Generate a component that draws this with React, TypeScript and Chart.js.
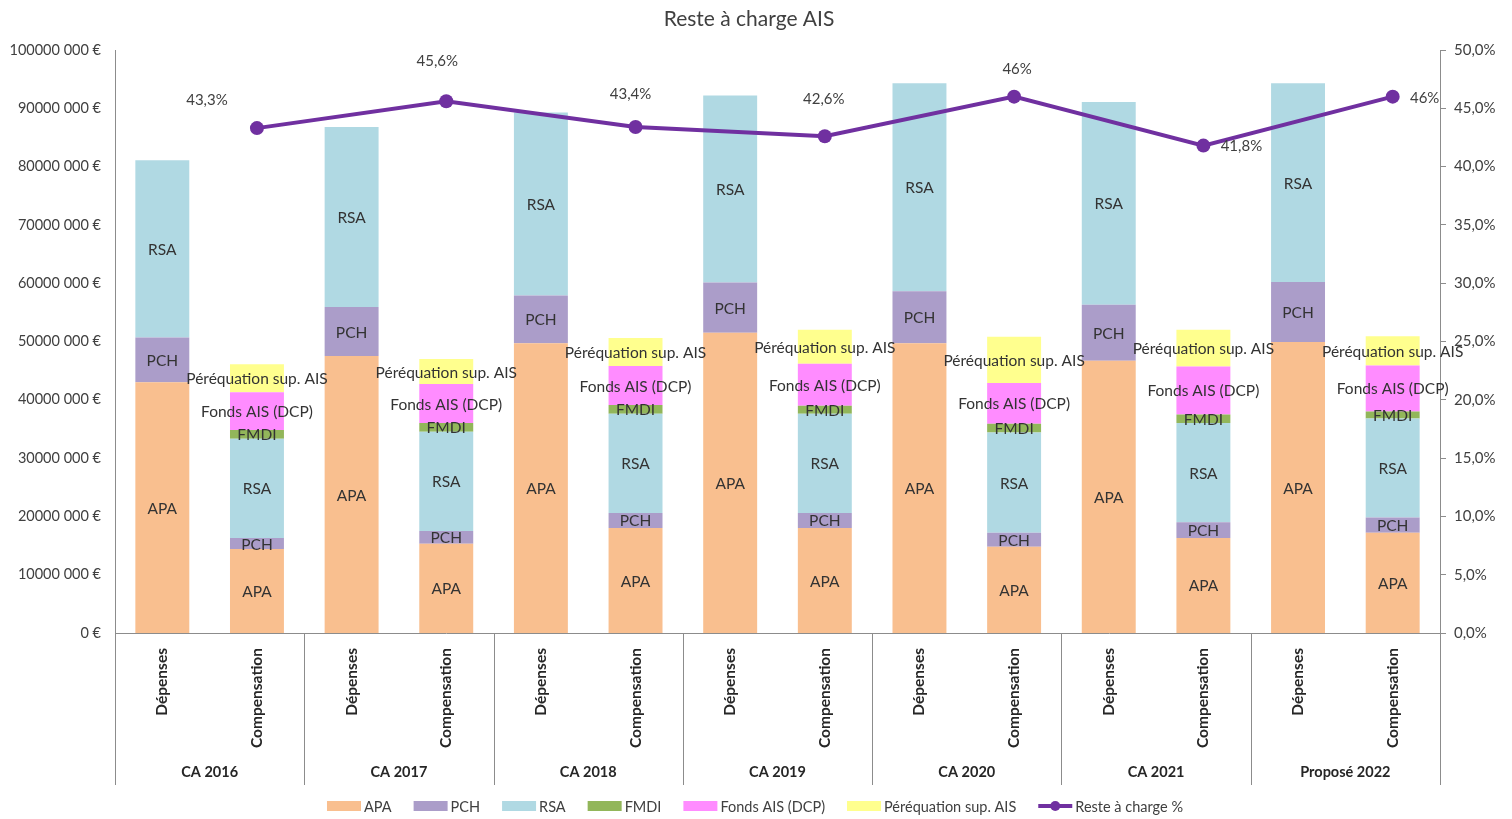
import React, { useEffect, useRef } from "react";
import { Chart, registerables } from "chart.js";

Chart.register(...registerables);

// Budget groups and the two bars shown for each of them
const groups = ["CA 2016", "CA 2017", "CA 2018", "CA 2019", "CA 2020", "CA 2021", "Proposé 2022"];
const barKinds = ["Dépenses", "Compensation"];
const categories = groups.flatMap(() => barKinds);

// Amounts in millions of euros, alternating Dépenses / Compensation
const apa = [43.0, 14.4, 47.5, 15.3, 49.7, 18.0, 51.5, 18.0, 49.7, 14.8, 46.7, 16.3, 49.9, 17.2];
const pch = [7.7, 1.9, 8.4, 2.2, 8.2, 2.6, 8.6, 2.6, 8.9, 2.4, 9.6, 2.7, 10.3, 2.6];
const rsa = [30.4, 17.0, 30.9, 17.0, 31.4, 17.0, 32.1, 17.0, 35.7, 17.2, 34.8, 17.0, 34.1, 17.0];
const fmdi = [null, 1.5, null, 1.5, null, 1.5, null, 1.4, null, 1.5, null, 1.5, null, 1.2];
const fondsAis = [null, 6.5, null, 6.7, null, 6.7, null, 7.2, null, 7.0, null, 8.2, null, 7.9];
const perequation = [null, 4.8, null, 4.3, null, 4.8, null, 5.8, null, 7.9, null, 6.3, null, 5.0];

// Share left to the département (%), plotted on the Compensation bars
const resteACharge = [null, 43.3, null, 45.6, null, 43.4, null, 42.6, null, 46, null, 41.8, null, 46];

// Where each percentage label sits relative to its point (px)
const lineLabelOffsets: [number, number][] = [
  [-50, -28], [-9, -40], [-5, -33], [-1, -37], [3, -27], [38, 1], [32, 2],
];

const FONT = 'Lato, "Open Sans", "DejaVu Sans", sans-serif';
const TEXT = "#404040";
const AXIS = "#8c8c8c";
const PURPLE = "#7030A0";

const barSeries = [
  { label: "APA", data: apa, color: "#F9BF8F" },
  { label: "PCH", data: pch, color: "#AB9DC9" },
  { label: "RSA", data: rsa, color: "#B0D9E3" },
  { label: "FMDI", data: fmdi, color: "#92B65A" },
  { label: "Fonds AIS (DCP)", data: fondsAis, color: "#FF8CFF" },
  { label: "Péréquation sup. AIS", data: perequation, color: "#FFFF8E" },
];

const formatPct = (v: number) =>
  Number.isInteger(v) ? `${v}%` : `${v.toFixed(1).replace(".", ",")}%`;

const segmentLabels = {
  id: "segmentLabels",
  afterDatasetsDraw(chart: any) {
    const ctx = chart.ctx;
    ctx.save();
    ctx.textAlign = "center";
    ctx.textBaseline = "middle";
    ctx.fillStyle = "#333333";
    ctx.font = `15.5px ${FONT}`;
    chart.data.datasets.forEach((ds: any, i: number) => {
      if (ds.type === "line") return;
      const meta = chart.getDatasetMeta(i);
      meta.data.forEach((el: any, j: number) => {
        if (ds.data[j] == null) return;
        const { x, y, base } = el.getProps(["x", "y", "base"], true);
        ctx.fillText(ds.label, x, (y + base) / 2 + 1);
      });
    });
    // percentage labels of the line
    const li = chart.data.datasets.findIndex((d: any) => d.type === "line");
    if (li >= 0) {
      const meta = chart.getDatasetMeta(li);
      const ds = chart.data.datasets[li];
      let k = 0;
      ctx.font = `15px ${FONT}`;
      meta.data.forEach((el: any, j: number) => {
        const v = ds.data[j];
        if (v == null) return;
        const [dx, dy] = lineLabelOffsets[k++] || [0, -30];
        ctx.fillStyle = TEXT;
        ctx.fillText(formatPct(v), el.x + dx, el.y + dy);
      });
    }
    ctx.restore();
  },
};

const frame = {
  id: "frame",
  afterDraw(chart: any) {
    const ctx = chart.ctx;
    const area = chart.chartArea;
    ctx.save();

    // title
    ctx.fillStyle = TEXT;
    ctx.font = `21px ${FONT}`;
    ctx.textAlign = "center";
    ctx.textBaseline = "middle";
    ctx.fillText("Reste à charge AIS", 749, 19);

    // group separators and group names under the axis
    const step = (area.right - area.left) / categories.length;
    ctx.strokeStyle = AXIS;
    ctx.lineWidth = 1;
    for (let g = 0; g <= groups.length; g++) {
      const x = Math.round(area.left + g * 2 * step) + 0.5;
      ctx.beginPath();
      ctx.moveTo(x, area.bottom);
      ctx.lineTo(x, area.bottom + 152);
      ctx.stroke();
    }
    ctx.font = `bold 14.5px ${FONT}`;
    ctx.fillStyle = "#262626";
    groups.forEach((name, g) => {
      const cx = area.left + (g * 2 + 1) * step;
      ctx.fillText(name, cx, 772);
    });

    // legend
    ctx.font = `14.5px ${FONT}`;
    const items = [
      ...barSeries.map((s) => ({ label: s.label, color: s.color, line: false })),
      { label: "Reste à charge %", color: PURPLE, line: true },
    ];
    const boxW = 34;
    const gapText = 3;
    const gapItem = 22;
    const widths = items.map((it) => boxW + gapText + ctx.measureText(it.label).width);
    const total = widths.reduce((a, b) => a + b, 0) + gapItem * (items.length - 1);
    let x = 755 - total / 2;
    const ly = 806;
    ctx.textAlign = "left";
    items.forEach((it, i) => {
      if (it.line) {
        ctx.strokeStyle = it.color;
        ctx.lineWidth = 4;
        ctx.beginPath();
        ctx.moveTo(x, ly);
        ctx.lineTo(x + boxW, ly);
        ctx.stroke();
        ctx.fillStyle = it.color;
        ctx.beginPath();
        ctx.arc(x + boxW / 2, ly, 5, 0, Math.PI * 2);
        ctx.fill();
      } else {
        ctx.fillStyle = it.color;
        ctx.fillRect(x, ly - 5, boxW, 10);
      }
      ctx.fillStyle = TEXT;
      ctx.fillText(it.label, x + boxW + gapText, ly + 1);
      x += widths[i] + gapItem;
    });
    ctx.restore();
  },
};

export default function App() {
  const canvasRef = useRef<HTMLCanvasElement | null>(null);

  useEffect(() => {
    if (!canvasRef.current) return;
    Chart.defaults.font.family = FONT;

    const datasets: any[] = [
      {
        type: "line",
        label: "Reste à charge %",
        data: resteACharge,
        yAxisID: "y2",
        borderColor: PURPLE,
        backgroundColor: PURPLE,
        borderWidth: 4,
        pointRadius: 7,
        pointBackgroundColor: PURPLE,
        pointBorderWidth: 0,
        spanGaps: true,
        order: 0,
      },
      ...barSeries.map((s) => ({
        type: "bar",
        label: s.label,
        data: s.data,
        backgroundColor: s.color,
        yAxisID: "y",
        stack: "montants",
        categoryPercentage: 1,
        barPercentage: 0.57,
        order: 1,
      })),
    ];

    const chart = new Chart(canvasRef.current, {
      type: "bar",
      data: { labels: categories, datasets },
      options: {
        animation: false,
        responsive: true,
        maintainAspectRatio: false,
        layout: { padding: { top: 50, left: 0, right: 0, bottom: 0 } },
        plugins: {
          legend: { display: false },
          title: { display: false },
          tooltip: { enabled: false },
        },
        scales: {
          x: {
            stacked: true,
            grid: { display: false },
            border: { display: true, color: AXIS },
            ticks: {
              autoSkip: false,
              maxRotation: 90,
              minRotation: 90,
              padding: 7,
              color: "#262626",
              font: { size: 15.5, weight: "bold" },
            },
            afterFit: (s: any) => {
              s.height = 186;
            },
          },
          y: {
            position: "left",
            stacked: true,
            min: 0,
            max: 100,
            grid: { display: false },
            border: { display: true, color: AXIS },
            ticks: {
              stepSize: 10,
              padding: 6,
              color: TEXT,
              font: { size: 14.5 },
              callback: (v: any) => (v === 0 ? "0 €" : `${v * 1000} 000 €`),
            },
            afterFit: (s: any) => {
              s.width = 115;
            },
          },
          y2: {
            position: "right",
            min: 0,
            max: 50,
            grid: {
              display: true,
              drawOnChartArea: false,
              drawTicks: true,
              tickLength: 6,
              color: AXIS,
            },
            border: { display: true, color: AXIS },
            ticks: {
              stepSize: 5,
              padding: 8,
              color: TEXT,
              font: { size: 15 },
              callback: (v: any) => `${Number(v).toFixed(1).replace(".", ",")}%`,
            },
            afterFit: (s: any) => {
              s.width = 72;
            },
          },
        },
      } as any,
      plugins: [segmentLabels, frame],
    });

    return () => chart.destroy();
  }, []);

  return (
    <div style={{ position: "fixed", left: 0, top: 0, width: 1512, height: 819, background: "#fff" }}>
      <canvas ref={canvasRef} />
    </div>
  );
}
